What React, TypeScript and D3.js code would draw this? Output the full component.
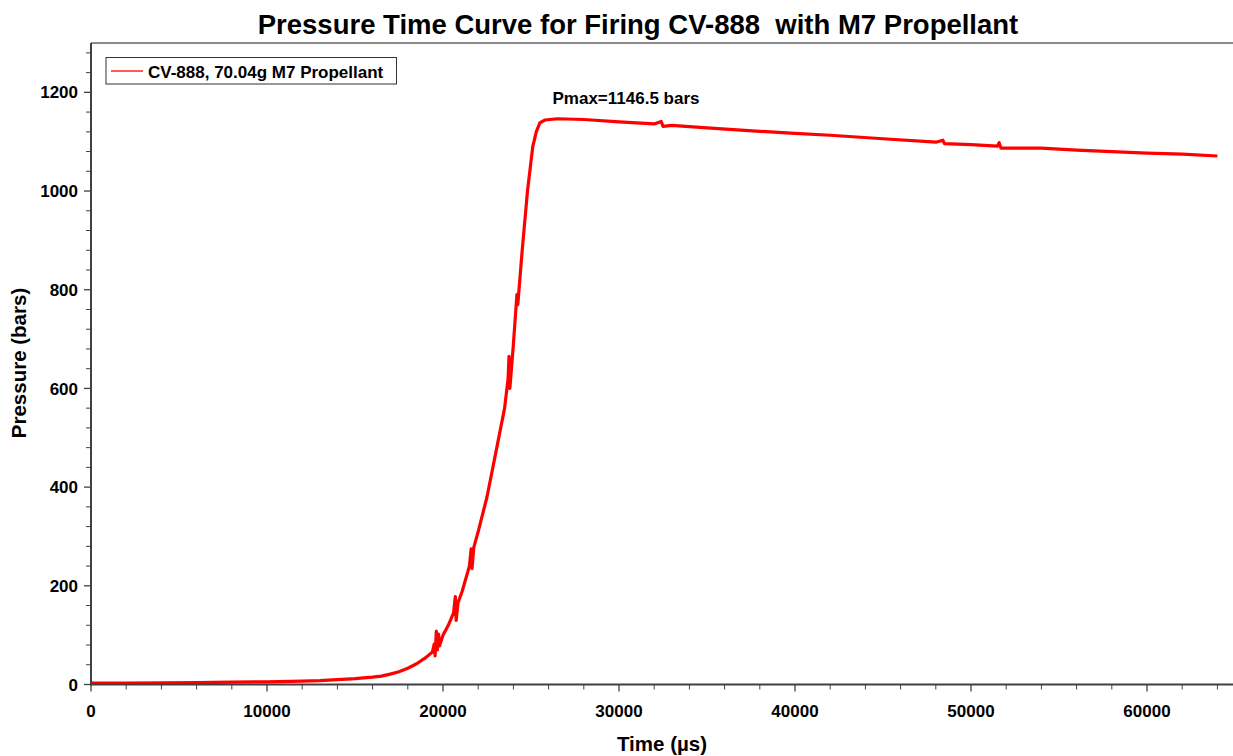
import React from "react";
import * as d3 from "d3";

const timeUs = [
  0, 2000, 4000, 6000, 8000, 10000, 12000, 13000, 14000, 15000, 16000, 16500, 17000, 17500, 18000, 18500,
  19000, 19400, 19500, 19550, 19620, 19680, 19750, 19800, 20000, 20300, 20600, 20700, 20750, 20850, 21100,
  21500, 21600, 21650, 21750, 22000, 22500, 23000, 23500, 23700, 23750, 23800, 24000, 24200, 24250, 24500,
  24800, 25100, 25300, 25500, 25800, 26500, 28000, 30000, 32000, 32400, 32500, 33000, 35000, 38000, 40000,
  42000, 45000, 48000, 48400, 48500, 50000, 51500, 51600, 51700, 54000, 56000, 58000, 60000, 62000, 64000,
];
const pressureBars = [
  3, 3, 3.5, 4, 5, 5.5, 7, 8, 10, 12, 15, 17, 21, 26, 33, 42,
  54, 66, 82, 58, 108, 70, 102, 78, 100, 120, 145, 178, 130, 165, 190,
  240, 275, 235, 278, 310, 380, 470, 560, 620, 665, 600, 690, 790, 770, 880,
  1000, 1090, 1120, 1138, 1144, 1146.5, 1145, 1140, 1136, 1141, 1131, 1133, 1128, 1121, 1117,
  1113, 1106, 1099, 1103, 1096, 1094, 1091, 1098, 1087, 1087, 1083, 1080, 1077, 1075, 1071,
];
const xMajorTicks = [0, 10000, 20000, 30000, 40000, 50000, 60000];
const yMajorTicks = [0, 200, 400, 600, 800, 1000, 1200];

const W = 1233;
const H = 756;
const left = 91;
const right = 1235;
const top = 43;
const bottom = 684.5;

export default function App() {
  const x = d3.scaleLinear().domain([0, 65000]).range([left, right]);
  const y = d3.scaleLinear().domain([0, 1300]).range([bottom, top]);
  const pts = timeUs.map((t, i) => [t, pressureBars[i]] as [number, number]);
  const line = d3
    .line<[number, number]>()
    .x((d) => x(d[0]))
    .y((d) => y(d[1]));
  const xMinor = d3.range(0, 65001, 2000).filter((v) => v % 10000 !== 0);
  const yMinor = d3.range(0, 1301, 40).filter((v) => v % 200 !== 0);
  const font = "Arial, 'Liberation Sans', Helvetica, sans-serif";
  const axisColor = "#404040";

  return (
    <div style={{ position: "absolute", left: 0, top: 0 }}>
      <svg width={W} height={H} style={{ display: "block", background: "#fff" }} fontFamily={font}>
        <text x={638} y={34} textAnchor="middle" fontSize={27.5} fontWeight="bold" fill="#000">
          Pressure Time Curve for Firing CV-888{"\u00a0 "}with M7 Propellant
        </text>
        {/* frame */}
        <line x1={left} x2={W} y1={top} y2={top} stroke="#8a8a8a" strokeWidth={2} />
        <line x1={right - 1} x2={right - 1} y1={top} y2={bottom} stroke="#8a8a8a" strokeWidth={2} />
        <clipPath id="plot">
          <rect x={left} y={top} width={right - left} height={bottom - top + 2} />
        </clipPath>
        <path d={line(pts) ?? ""} fill="none" stroke="#ff0000" strokeWidth={3.2} strokeLinejoin="round" clipPath="url(#plot)" />
        {/* axes */}
        <line x1={left} x2={left} y1={top} y2={bottom + 1} stroke={axisColor} strokeWidth={2} />
        <line x1={left - 1} x2={W} y1={bottom} y2={bottom} stroke={axisColor} strokeWidth={2} />
        {yMajorTicks.map((v) => (
          <g key={"ym" + v}>
            <line x1={left - 7} x2={left} y1={y(v)} y2={y(v)} stroke={axisColor} strokeWidth={1.3} />
            <text x={78} y={y(v)} dy="0.36em" textAnchor="end" fontSize={17} fontWeight="bold">
              {v}
            </text>
          </g>
        ))}
        {yMinor.map((v) => (
          <line key={"yn" + v} x1={left - 5} x2={left} y1={y(v)} y2={y(v)} stroke={axisColor} strokeWidth={1} />
        ))}
        {xMajorTicks.map((v) => (
          <g key={"xm" + v}>
            <line x1={x(v)} x2={x(v)} y1={bottom} y2={bottom + 7} stroke={axisColor} strokeWidth={1.3} />
            <text x={x(v)} y={717} textAnchor="middle" fontSize={17} fontWeight="bold">
              {v}
            </text>
          </g>
        ))}
        {xMinor.map((v) => (
          <line key={"xn" + v} x1={x(v)} x2={x(v)} y1={bottom} y2={bottom + 5} stroke={axisColor} strokeWidth={1} />
        ))}
        <text x={662} y={751} textAnchor="middle" fontSize={20.5} fontWeight="bold">
          Time ({"\u00b5"}s)
        </text>
        <text transform={`translate(26, ${363}) rotate(-90)`} textAnchor="middle" fontSize={20.5} fontWeight="bold">
          Pressure (bars)
        </text>
        {/* legend */}
        <rect x={106} y={57.5} width={290.5} height={26.5} fill="#fff" stroke="#333" strokeWidth={1} />
        <line x1={111} x2={143} y1={71} y2={71} stroke="#ff0000" strokeWidth={1.3} />
        <text x={148} y={77.5} fontSize={17} fontWeight="bold">
          CV-888, 70.04g M7 Propellant
        </text>
        <text x={626} y={103.5} textAnchor="middle" fontSize={17} fontWeight="bold">
          Pmax=1146.5 bars
        </text>
      </svg>
    </div>
  );
}
